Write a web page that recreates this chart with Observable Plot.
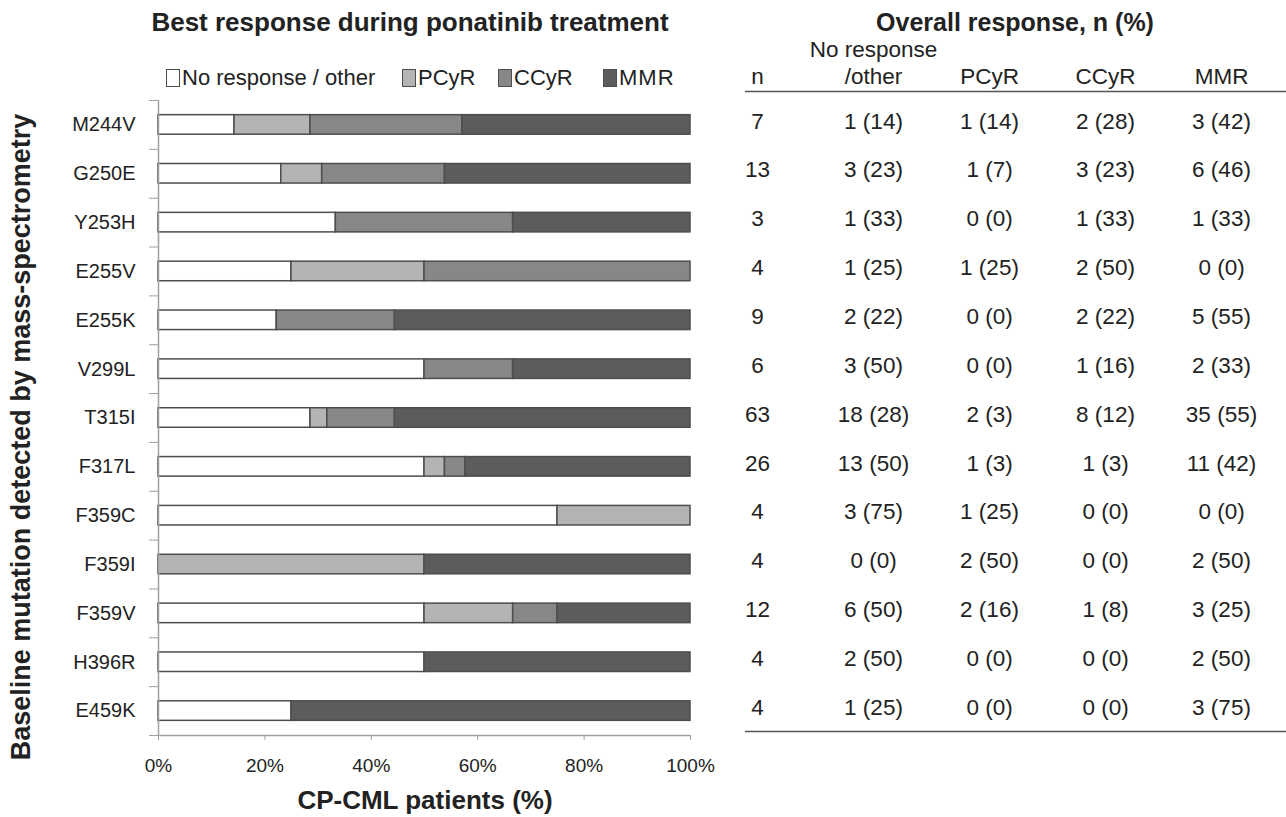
<!DOCTYPE html>
<html>
<head>
<meta charset="utf-8">
<script src="https://cdn.jsdelivr.net/npm/d3@7"></script>
<script src="https://cdn.jsdelivr.net/npm/@observablehq/plot@0.6"></script>
<style>
  html, body { margin: 0; padding: 0; background: #fff; }
  #wrap { position: relative; width: 1286px; height: 817px; font-family: "Liberation Sans", Arial, sans-serif; color: #222; overflow: hidden; }
  .abs { position: absolute; white-space: nowrap; }
  .title { font-weight: bold; text-align: center; }
  .legbox { position: absolute; width: 14px; height: 18px; border: 1.5px solid #4d4d4d; box-sizing: border-box; }
  .legtxt { position: absolute; font-size: 22px; line-height: 22px; white-space: nowrap; }
  #left, #right { position: absolute; top: 0; }
  #left { left: 0; } #right { left: 720px; }
</style>
</head>
<body>
<div id="wrap">
  <div id="left"></div>
  <div id="right"></div>
</div>
<script>
// ---- data ----
const mutations = ["M244V","G250E","Y253H","E255V","E255K","V299L","T315I","F317L","F359C","F359I","F359V","H396R","E459K"];
const responses = ["No response / other","PCyR","CCyR","MMR"];
const nPatients = [7,13,3,4,9,6,63,26,4,4,12,4,4];
const noResp    = [1,3,1,1,2,3,18,13,3,0,6,2,1];
const noRespPct = [14,23,33,25,22,50,28,50,75,0,50,50,25];
const pcyr      = [1,1,0,1,0,0,2,1,1,2,2,0,0];
const pcyrPct   = [14,7,0,25,0,0,3,3,25,50,16,0,0];
const ccyr      = [2,3,1,2,2,1,8,1,0,0,1,0,0];
const ccyrPct   = [28,23,33,50,22,16,12,3,0,0,8,0,0];
const mmr       = [3,6,1,0,5,2,35,11,0,2,3,2,3];
const mmrPct    = [42,46,33,0,55,33,55,42,0,50,25,50,75];
const xTicks = [0,0.2,0.4,0.6,0.8,1];
const tableCols = ["n","nr","pcyr","ccyr","mmr"];
const headerTop = {n:"", nr:"No response", pcyr:"", ccyr:"", mmr:""};
const headerBottom = {n:"n", nr:"/other", pcyr:"PCyR", ccyr:"CCyR", mmr:"MMR"};

const colors = ["#ffffff","#b4b4b4","#878787","#5b5c5e"];
const ink = "#222";
const axisGray = "#a0a0a0";

// ---- derived tables ----
const countsBy = [noResp, pcyr, ccyr, mmr];
const pctsBy = [noRespPct, pcyrPct, ccyrPct, mmrPct];
const bars = [];
mutations.forEach((m, i) => responses.forEach((r, j) => {
  if (countsBy[j][i] > 0) bars.push({mutation: m, response: r, count: countsBy[j][i]});
}));
const cells = [];
mutations.forEach((m, i) => {
  cells.push({mutation: m, col: "n", label: String(nPatients[i])});
  ["nr","pcyr","ccyr","mmr"].forEach((c, j) => cells.push({mutation: m, col: c, label: `${countsBy[j][i]} (${pctsBy[j][i]})`}));
});

const H = 817, MT = 100, MB = 82;
const step = (H - MT - MB) / mutations.length;
const yScale = {domain: mutations, paddingInner: 0.6, paddingOuter: 0.3, round: false};

// ---- left: stacked bars ----
const left = Plot.plot({
  width: 720, height: H, marginTop: MT, marginBottom: MB, marginLeft: 158, marginRight: 30,
  style: {fontFamily: "Liberation Sans, Arial, sans-serif", color: ink, background: "transparent"},
  x: {domain: [0, 1]},
  y: yScale,
  color: {domain: responses, range: colors},
  marks: [
    Plot.barX(bars, Plot.stackX({x: "count", y: "mutation", fill: "response", offset: "normalize", order: responses,
      stroke: "#4d4d4d", strokeWidth: 1.5})),
    Plot.ruleX([0], {stroke: axisGray, strokeWidth: 1.5}),
    Plot.ruleY([mutations[mutations.length - 1]], {dy: step / 2, stroke: axisGray, strokeWidth: 1.5}),
    Plot.axisY({tickSize: 9, dy: -step / 2, stroke: axisGray, tickFormat: () => "", label: null}),
    Plot.axisY({ticks: [mutations[mutations.length - 1]], tickSize: 9, dy: step / 2, stroke: axisGray, tickFormat: () => "", label: null}),
    Plot.axisY({tickSize: 0, tickPadding: 23, fontSize: 20, fill: ink, label: null}),
    Plot.axisX({ticks: xTicks, tickSize: 5, stroke: axisGray, tickFormat: () => "", label: null}),
    Plot.axisX({ticks: xTicks, tickSize: 0, tickPadding: 23, fontSize: 19, fill: ink, tickFormat: d3.format(".0%"), label: null})
  ]
});
document.getElementById("left").appendChild(left);

// ---- right: table ----
const right = Plot.plot({
  width: 566, height: H, marginTop: MT, marginBottom: MB, marginLeft: 25, marginRight: 0,
  style: {fontFamily: "Liberation Sans, Arial, sans-serif", color: ink, background: "transparent"},
  x: {type: "point", domain: tableCols, range: [35, 502], padding: 0, axis: null},
  y: {...yScale, axis: null},
  marks: [
    Plot.text(cells, {x: "col", y: "mutation", text: "label", dy: -3.5, fontSize: 22.5, fill: ink}),
    Plot.text(tableCols, {x: d => d, text: d => headerTop[d], frameAnchor: "top", lineAnchor: "middle", dy: -51, fontSize: 22.5, fill: ink}),
    Plot.text(tableCols, {x: d => d, text: d => headerBottom[d], frameAnchor: "top", lineAnchor: "middle", dy: -24, fontSize: 22.5, fill: ink}),
    Plot.ruleY([mutations[0]], {dy: -(step * 0.5 + 9), stroke: "#555", strokeWidth: 1.5}),
    Plot.ruleY([mutations[mutations.length - 1]], {dy: step * 0.5 - 4, stroke: "#555", strokeWidth: 1.5})
  ]
});
document.getElementById("right").appendChild(right);

// ---- titles and legend (HTML) ----
const wrap = document.getElementById("wrap");
function addDiv(cls, text, style) {
  const d = document.createElement("div");
  d.className = cls;
  d.textContent = text;
  Object.assign(d.style, style);
  wrap.appendChild(d);
  return d;
}
addDiv("abs title", "Best response during ponatinib treatment", {left: "110px", width: "600px", top: "9px", fontSize: "26px", lineHeight: "26px"});
addDiv("abs title", "Overall response, n (%)", {left: "765px", width: "500px", top: "10px", fontSize: "25px", lineHeight: "25px"});
addDiv("abs title", "CP-CML patients (%)", {left: "125px", width: "600px", top: "787px", fontSize: "26px", lineHeight: "26px"});
addDiv("abs title", "Baseline mutation detected by mass-spectrometry",
  {left: "21px", top: "437px", width: "700px", fontSize: "27px", lineHeight: "27px", transform: "translate(-50%,-50%) rotate(-90deg)"});

const legX = [166, 402, 498, 603];
responses.forEach((r, i) => {
  const b = document.createElement("div");
  b.className = "legbox";
  Object.assign(b.style, {left: legX[i] + "px", top: "69px", background: colors[i]});
  wrap.appendChild(b);
  const t = addDiv("legtxt", r, {left: (legX[i] + 16) + "px", top: "67px"});
  if (r === "MMR") t.style.letterSpacing = "1px";
});
</script>
</body>
</html>
